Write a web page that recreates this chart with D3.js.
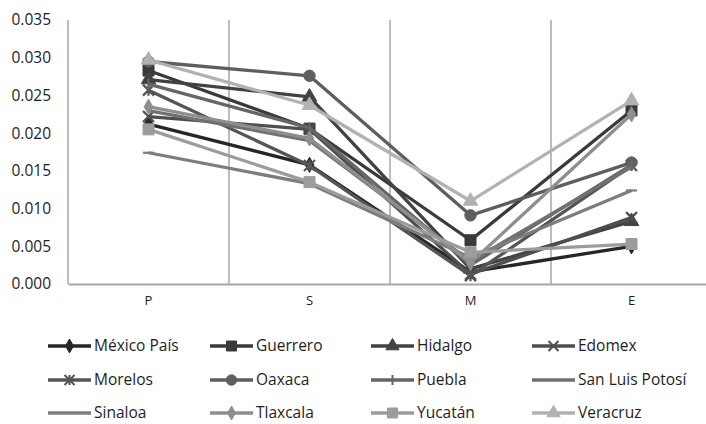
<!DOCTYPE html>
<html>
<head>
<meta charset="utf-8">
<script src="https://cdn.jsdelivr.net/npm/d3@7"></script>
<style>
  html, body { margin: 0; padding: 0; background: #fff; }
  svg { display: block; }
  text { font-family: "Open Sans", "Liberation Sans", sans-serif; fill: #1e1e1e; }
</style>
</head>
<body>
<svg id="chart" width="706" height="424"></svg>
<script>
// Categories on the x axis
const categories = ["P", "S", "M", "E"];

// Series names, in drawing order
const seriesNames = ["México País", "Guerrero", "Hidalgo", "Edomex", "Morelos", "Oaxaca",
  "Puebla", "San Luis Potosí", "Sinaloa", "Tlaxcala", "Yucatán", "Veracruz"];

// Values per series (P, S, M, E)
const mexicoPais    = [0.0212, 0.0158, 0.0016, 0.0050];
const guerrero      = [0.0283, 0.0206, 0.0058, 0.0230];
const hidalgo       = [0.0271, 0.0248, 0.0020, 0.0083];
const edomex        = [0.0222, 0.0205, 0.0013, 0.0088];
const morelos       = [0.0257, 0.0157, 0.0011, 0.0157];
const oaxaca        = [0.0295, 0.0276, 0.0091, 0.0161];
const puebla        = [0.0265, 0.0207, 0.0025, 0.0158];
const sanLuisPotosi = [0.0230, 0.0190, 0.0030, 0.0155];
const sinaloa       = [0.0174, 0.0133, 0.0035, 0.0124];
const tlaxcala      = [0.0235, 0.0193, 0.0028, 0.0225];
const yucatan       = [0.0205, 0.0135, 0.0042, 0.0053];
const veracruz      = [0.0297, 0.0237, 0.0110, 0.0243];

// Y axis tick labels
const yTicks = [0, 0.005, 0.010, 0.015, 0.020, 0.025, 0.030, 0.035];

const seriesValues = [mexicoPais, guerrero, hidalgo, edomex, morelos, oaxaca,
  puebla, sanLuisPotosi, sinaloa, tlaxcala, yucatan, veracruz];
const seriesColors = ["#262626", "#3a3a3a", "#424242", "#4e4e4e", "#555555", "#5e5e5e",
  "#666666", "#717171", "#7d7d7d", "#8e8e8e", "#9c9c9c", "#b2b2b2"];
const seriesMarkers = ["diamond", "square", "triangle", "x", "star", "circle",
  "plus", "none", "dash", "diamond", "square", "triangle"];

const series = seriesNames.map((name, i) => ({
  name, values: seriesValues[i], color: seriesColors[i], marker: seriesMarkers[i]
}));

const svg = d3.select("#chart");
const plot = { left: 68, right: 712, top: 20, bottom: 284 };

const x = d3.scaleBand().domain(categories).range([plot.left, plot.right]);
const y = d3.scaleLinear().domain([0, 0.035]).range([plot.bottom, plot.top]);

// Vertical gridlines at category boundaries
svg.append("g").selectAll("line")
  .data(categories.map(c => x(c)).concat([plot.right]))
  .join("line")
  .attr("x1", d => d).attr("x2", d => d)
  .attr("y1", plot.top).attr("y2", plot.bottom)
  .attr("stroke", "#a6a6a6").attr("stroke-width", 1.5);

// Category axis
const xAxis = svg.append("g")
  .attr("transform", `translate(0,${plot.bottom})`)
  .call(d3.axisBottom(x).tickSize(0).tickPadding(12));
xAxis.select(".domain").attr("stroke", "#a6a6a6").attr("stroke-width", 2.2);
xAxis.selectAll("text").style("font-size", "13px").attr("fill", "#1e1e1e")
  .style("font-family", "'Open Sans', sans-serif");

// Value axis (labels only)
const yAxis = svg.append("g")
  .attr("transform", `translate(${plot.left},0)`)
  .call(d3.axisLeft(y).tickValues(yTicks).tickFormat(d3.format(".3f")).tickSize(0).tickPadding(17));
yAxis.select(".domain").remove();
yAxis.selectAll("text").style("font-size", "15.5px").attr("fill", "#1e1e1e")
  .style("font-family", "'Open Sans', sans-serif");

// Marker shapes
function markerPath(type, s) {
  const h = s / 2;
  switch (type) {
    case "diamond": return d3.symbol(d3.symbolDiamond, s * s * 0.55)();
    case "square": return d3.symbol(d3.symbolSquare, s * s)();
    case "triangle": return d3.symbol(d3.symbolTriangle, s * s * 0.75)();
    case "circle": return d3.symbol(d3.symbolCircle, s * s * 0.85)();
    case "x": return `M${-h},${-h}L${h},${h}M${-h},${h}L${h},${-h}`;
    case "star": return `M${-h},${-h}L${h},${h}M${-h},${h}L${h},${-h}M0,${-h}L0,${h}`;
    case "plus": return `M0,${-h}L0,${h}`;
    case "dash": return `M${-h},0L${h},0`;
    default: return "";
  }
}
const strokeOnly = t => t === "x" || t === "star" || t === "plus" || t === "dash";

const line = d3.line()
  .x((d, i) => x(categories[i]) + x.bandwidth() / 2)
  .y(d => y(d));

const seriesG = svg.append("g").selectAll("g").data(series).join("g");
seriesG.append("path")
  .attr("d", d => line(d.values))
  .attr("fill", "none")
  .attr("stroke", d => d.color)
  .attr("stroke-width", 3.3)
  .attr("stroke-linejoin", "round");
seriesG.each(function (s) {
  d3.select(this).selectAll("path.mk")
    .data(s.values)
    .join("path")
    .attr("class", "mk")
    .attr("transform", (d, i) => `translate(${x(categories[i]) + x.bandwidth() / 2},${y(d)})`)
    .attr("d", markerPath(s.marker, 11))
    .attr("fill", strokeOnly(s.marker) ? "none" : s.color)
    .attr("stroke", s.color)
    .attr("stroke-width", strokeOnly(s.marker) ? 2.2 : 1);
});

// Legend
const legendCols = [48, 210, 371, 532];
const legendRows = [346, 380, 413];
const legend = svg.append("g").selectAll("g").data(series).join("g")
  .attr("transform", (d, i) => `translate(${legendCols[i % 4]},${legendRows[Math.floor(i / 4)]})`);
legend.append("line")
  .attr("x1", 0).attr("x2", 43).attr("y1", 0).attr("y2", 0)
  .attr("stroke", d => d.color).attr("stroke-width", 3.3);
legend.append("path")
  .attr("transform", "translate(21.5,0)")
  .attr("d", d => markerPath(d.marker, 10))
  .attr("fill", d => strokeOnly(d.marker) ? "none" : d.color)
  .attr("stroke", d => d.color)
  .attr("stroke-width", d => strokeOnly(d.marker) ? 2 : 1);
legend.append("text")
  .attr("x", 46).attr("y", 0).attr("dy", "0.35em")
  .style("font-size", "15.5px")
  .text(d => d.name);
</script>
</body>
</html>
